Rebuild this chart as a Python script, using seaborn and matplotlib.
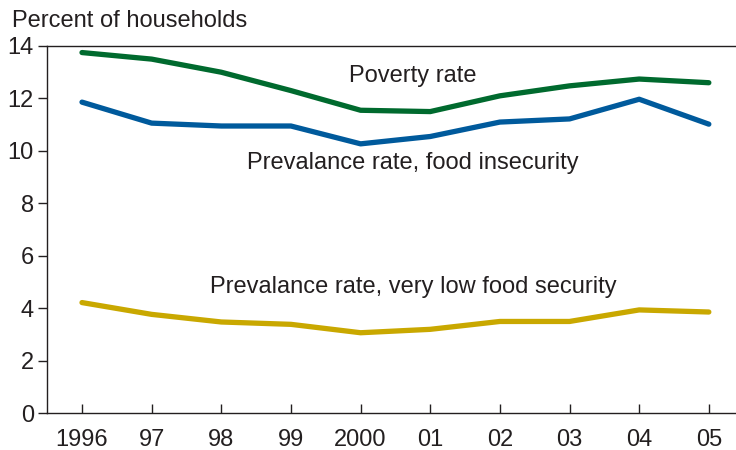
import matplotlib
matplotlib.use("Agg")
import matplotlib.pyplot as plt
import seaborn as sns
import pandas as pd

years = [1996, 1997, 1998, 1999, 2000, 2001, 2002, 2003, 2004, 2005]
year_labels = ["1996", "97", "98", "99", "2000", "01", "02", "03", "04", "05"]
poverty = [13.75, 13.5, 13.0, 12.3, 11.55, 11.5, 12.1, 12.48, 12.74, 12.6]
food_insecurity = [11.86, 11.06, 10.95, 10.95, 10.27, 10.55, 11.1, 11.22, 11.97, 11.02]
very_low = [4.22, 3.77, 3.48, 3.39, 3.07, 3.2, 3.5, 3.5, 3.94, 3.86]
y_ticks = [0, 2, 4, 6, 8, 10, 12, 14]

series_names = ["Poverty rate", "Prevalance rate, food insecurity",
                "Prevalance rate, very low food security"]
colors = ["#006A2E", "#005A9C", "#C9A800"]

df = pd.DataFrame({
    "year": years * 3,
    "value": poverty + food_insecurity + very_low,
    "series": [series_names[0]] * 10 + [series_names[1]] * 10 + [series_names[2]] * 10,
})

sns.set_style("white")
plt.rcParams["font.family"] = ["Liberation Sans", "DejaVu Sans"]
text_color = "#231F20"

fig = plt.figure(figsize=(7.36, 4.5), dpi=100)
ax = fig.add_axes([0.0639, 0.0816, 0.9361, 0.8162])

sns.lineplot(data=df, x="year", y="value", hue="series", palette=colors,
             hue_order=series_names, linewidth=3.8, legend=False, ax=ax)

ax.set_xlim(1995.498, 2005.39)
ax.set_ylim(0, 14)
ax.set_xticks(years)
ax.set_xticklabels(year_labels)
ax.set_yticks(y_ticks)
ax.set_yticklabels([str(v) for v in y_ticks])
ax.set_xlabel("")
ax.set_ylabel("")

for s in ["left", "bottom", "top"]:
    ax.spines[s].set_visible(True)
    ax.spines[s].set_color(text_color)
    ax.spines[s].set_linewidth(1.0)
ax.spines["right"].set_visible(False)

ax.tick_params(axis="y", direction="out", length=6.5, width=1.0, color=text_color,
               labelsize=17, labelcolor=text_color, pad=3, left=True)
ax.tick_params(axis="x", direction="in", length=6.5, width=1.0, color=text_color,
               labelsize=17, labelcolor=text_color, pad=11, bottom=True)

ax.text(2000.75, 12.86, "Poverty rate", fontsize=17, color=text_color,
        ha="center", va="center")
ax.text(2000.75, 9.54, "Prevalance rate, food insecurity", fontsize=17,
        color=text_color, ha="center", va="center")
ax.text(2000.75, 4.82, "Prevalance rate, very low food security", fontsize=17,
        color=text_color, ha="center", va="center")

fig.text(0.016, 0.953, "Percent of households", fontsize=17, color=text_color,
         ha="left", va="center")

fig.savefig("out.png", dpi=100)
